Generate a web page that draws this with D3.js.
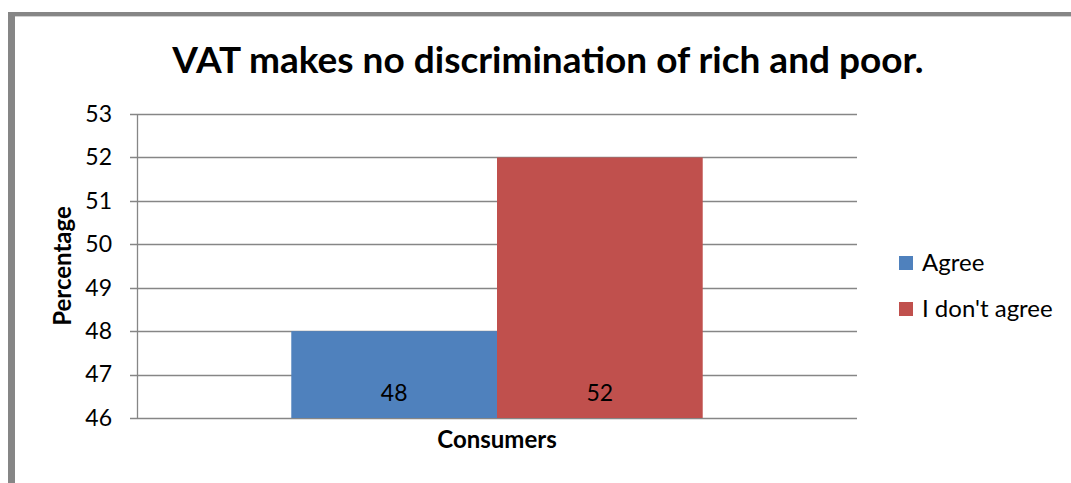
<!DOCTYPE html>
<html>
<head>
<meta charset="utf-8">
<script src="https://cdn.jsdelivr.net/npm/d3@7"></script>
<style>
body{margin:0;background:#fff;}
text{font-family:Lato,"Open Sans",sans-serif;}
</style>
</head>
<body>
<div id="chart"></div>
<script>
var categories=["Consumers"];
var seriesNames=["Agree","I don't agree"];
var seriesValues=[48,52];
var seriesColors=["#4F81BD","#C0504D"];
var yTicks=[46,47,48,49,50,51,52,53];

var width=1071,height=483;
var plotL=137,plotR=857,plotT=114,plotB=418;

var svg=d3.select("#chart").append("svg")
	.attr("width",width)
	.attr("height",height);

// outer frame (left and top only visible)
svg.append("rect").attr("x",8).attr("y",12).attr("width",width-8).attr("height",4).attr("fill","#868686");
svg.append("rect").attr("x",8).attr("y",12).attr("width",7).attr("height",height-12).attr("fill","#868686");
svg.append("line").attr("x1",15).attr("x2",width).attr("y1",16.5).attr("y2",16.5).attr("stroke","#d0d0d0");

svg.append("text")
	.attr("x",548).attr("y",73)
	.attr("text-anchor","middle")
	.attr("font-size",37).attr("font-weight","bold")
	.text("VAT makes no discrimination of rich and poor.");

var y=d3.scaleLinear().domain([46,53]).range([plotB,plotT]);
var x0=d3.scaleBand().domain(categories).range([plotL,plotR]);
// gap width 150% of a single bar
var groupW=x0.bandwidth()*2/(2+1.5);
var x1=d3.scaleBand().domain(seriesNames).range([0,groupW]);

// gridlines
svg.append("g").selectAll("line").data(yTicks).enter().append("line")
	.attr("x1",plotL-7).attr("x2",plotR)
	.attr("y1",function(d){return Math.round(y(d))+0.5;})
	.attr("y2",function(d){return Math.round(y(d))+0.5;})
	.attr("stroke","#868686").attr("stroke-width",1.3);

var yAxis=d3.axisLeft(y).tickValues(yTicks).tickFormat(d3.format("d")).tickSize(0).tickPadding(25);
var ga=svg.append("g").attr("transform","translate("+plotL+",0)").call(yAxis);
ga.select(".domain").attr("stroke","#868686").attr("stroke-width",1.3);
ga.selectAll("text").attr("font-size",23).attr("fill","#000").attr("font-family","Lato,'Open Sans',sans-serif");

var gx=x0(categories[0])+(x0.bandwidth()-groupW)/2;
svg.append("g").selectAll("rect").data(seriesValues).enter().append("rect")
	.attr("x",function(d,i){return gx+x1(seriesNames[i]);})
	.attr("y",function(d){return y(d);})
	.attr("width",x1.bandwidth())
	.attr("height",function(d){return y(46)-y(d);})
	.attr("fill",function(d,i){return seriesColors[i];});

svg.append("g").selectAll("text").data(seriesValues).enter().append("text")
	.attr("x",function(d,i){return gx+x1(seriesNames[i])+x1.bandwidth()/2;})
	.attr("y",y(46)-17)
	.attr("text-anchor","middle")
	.attr("font-size",23)
	.text(function(d){return d;});

svg.append("text")
	.attr("x",x0(categories[0])+x0.bandwidth()/2).attr("y",448)
	.attr("text-anchor","middle")
	.attr("font-size",24).attr("font-weight","bold")
	.text(categories[0]);

svg.append("text")
	.attr("transform","translate(71,266) rotate(-90)")
	.attr("text-anchor","middle")
	.attr("font-size",24).attr("font-weight","bold")
	.text("Percentage");

var leg=svg.append("g").selectAll("g").data(seriesNames).enter().append("g")
	.attr("transform",function(d,i){return "translate(899,"+(256+i*46)+")";});
leg.append("rect").attr("width",14).attr("height",14)
	.attr("fill",function(d,i){return seriesColors[i];});
leg.append("text").attr("x",23).attr("y",15)
	.attr("font-size",24)
	.text(function(d){return d;});
</script>
</body>
</html>
